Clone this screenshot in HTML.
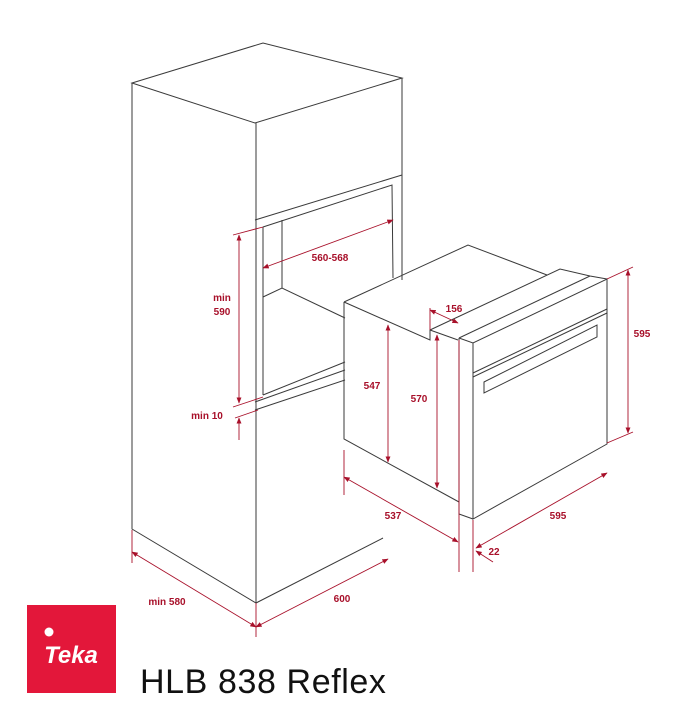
<!DOCTYPE html>
<html><head><meta charset="utf-8"><style>
html,body{margin:0;padding:0;background:#fff;width:687px;height:715px;overflow:hidden}
svg{display:block}
</style></head><body>
<svg width="687" height="715" viewBox="0 0 687 715" xmlns="http://www.w3.org/2000/svg">
<defs>
<marker id="a" viewBox="0 0 10 10" refX="9" refY="5" markerWidth="7" markerHeight="7" orient="auto-start-reverse"><path d="M0,1 L10,5 L0,9 z" fill="#a8102a"/></marker>
</defs>
<g fill="none" stroke="#3a3a3a" stroke-width="1">
<path d="M132,83 L263,43 L402,78 L255,123 Z"/>
<path d="M132,83 L132,529 L256,603 L256,123"/>
<path d="M256,603 L383,538"/>
<path d="M402,78 L402,280"/>
<path d="M255,220 L402,175"/>
<path d="M263,227 L392,185 L393,278"/>
<path d="M263,227 L263,395"/>
<path d="M282,220 L282,288"/>
<path d="M263,297 L282,288 L345,318"/>
<path d="M263,395 L345,362"/>
<path d="M255,402 L345,370"/>
<path d="M255,410 L345,380"/>
<path d="M344,302 L468,245 L547,275"/>
<path d="M344,302 L430,340 L430,330 L560,269 L590,276 L607,279"/>
<path d="M430,330 L458,340"/>
<path d="M459,338 L590,276"/>
<path d="M459,338 L473,343 L607,279 L607,444 L473,519 L473,343"/>
<path d="M459,338 L459,514 L473,519"/>
<path d="M344,302 L344,439 L459,502"/>
<path d="M473,373 L607,309"/>
<path d="M473,377 L607,313"/>
<path d="M484,382 L597,325 L597,337 L484,393 Z"/>
</g>
<g stroke="#a8102a" stroke-width="0.9" fill="none">
<path d="M233,235 L263,227 M233,407 L263,397 M235,418 L258,410"/>
<path d="M607,279 L633,267 M607,443 L633,432"/>
<path d="M344,450 L344,495 M459,340 L459,572 M473,520 L473,572"/>
<path d="M132,530 L132,563 M256,603 L256,637"/>
<path d="M430,308 L430,330"/>
<line x1="239" y1="235" x2="239" y2="403" marker-start="url(#a)" marker-end="url(#a)"/>
<line x1="239" y1="440" x2="239" y2="418" marker-end="url(#a)"/>
<line x1="263" y1="268" x2="393" y2="220" marker-start="url(#a)" marker-end="url(#a)"/>
<line x1="388" y1="325" x2="388" y2="462" marker-start="url(#a)" marker-end="url(#a)"/>
<line x1="437" y1="335" x2="437" y2="488" marker-start="url(#a)" marker-end="url(#a)"/>
<line x1="430" y1="310" x2="458" y2="323" marker-start="url(#a)" marker-end="url(#a)"/>
<line x1="628" y1="270" x2="628" y2="433" marker-start="url(#a)" marker-end="url(#a)"/>
<line x1="344" y1="477" x2="458" y2="542" marker-start="url(#a)" marker-end="url(#a)"/>
<line x1="607" y1="473" x2="476" y2="548" marker-start="url(#a)" marker-end="url(#a)"/>
<line x1="493" y1="562" x2="476" y2="551" marker-end="url(#a)"/>
<line x1="132" y1="552" x2="256" y2="627" marker-start="url(#a)" marker-end="url(#a)"/>
<line x1="256" y1="627" x2="388" y2="559" marker-start="url(#a)" marker-end="url(#a)"/>
</g>
<g fill="#a8102a" font-family="Liberation Sans, sans-serif" font-size="10" font-weight="bold" text-anchor="middle">
<text x="222" y="301">min</text>
<text x="222" y="315">590</text>
<text x="207" y="419">min 10</text>
<text x="330" y="261">560-568</text>
<text x="372" y="389">547</text>
<text x="419" y="402">570</text>
<text x="454" y="312">156</text>
<text x="642" y="337">595</text>
<text x="393" y="519">537</text>
<text x="558" y="519">595</text>
<text x="494" y="555">22</text>
<text x="167" y="605">min 580</text>
<text x="342" y="602">600</text>
</g>
<rect x="27" y="605" width="89" height="88" fill="#e3173a"/>
<circle cx="49" cy="632" r="4.5" fill="#fff"/>
<text x="71" y="663" fill="#fff" font-family="Liberation Sans, sans-serif" font-size="24" font-weight="bold" font-style="italic" text-anchor="middle">Teka</text>
<text x="140" y="693" fill="#111" font-family="Liberation Sans, sans-serif" font-size="34" letter-spacing="0.6">HLB 838 Reflex</text>
</svg>
</body></html>
